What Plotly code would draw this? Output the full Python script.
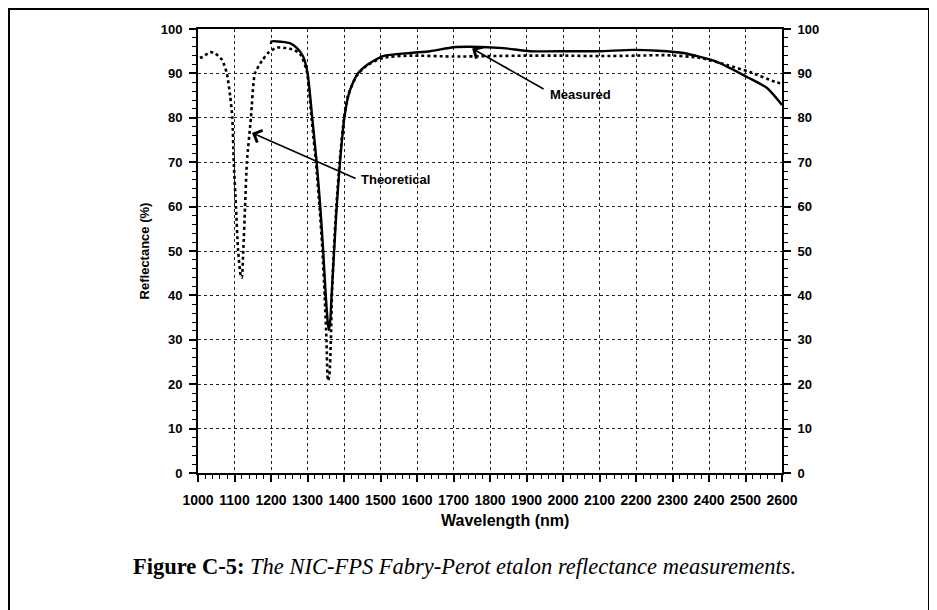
import plotly.graph_objects as go

# ---- data ----
measured_x = [1200, 1201, 1230, 1252, 1270, 1288, 1300, 1313, 1325, 1335, 1343, 1350, 1356,
              1359, 1363, 1366, 1373, 1380, 1389, 1401, 1412, 1425, 1440, 1463, 1507, 1581,
              1636, 1700, 1745, 1836, 1910, 2020, 2100, 2192, 2260, 2330, 2422, 2504, 2559,
              2600]
measured_y = [96.6, 97.2, 97.1, 96.8, 95.8, 93.8, 90.2, 80.0, 70.0, 60.0, 50.0, 40.0, 33.5,
              32.2, 35.0, 40.0, 50.0, 60.0, 70.0, 80.0, 85.0, 88.0, 90.2, 91.9, 93.9, 94.6,
              95.0, 95.9, 96.0, 95.7, 95.0, 95.0, 95.0, 95.3, 95.1, 94.6, 92.6, 89.2, 86.7,
              82.9]

theory_x = [1005, 1013, 1033, 1047, 1066, 1079, 1088, 1094, 1098, 1104, 1110, 1117, 1120,
            1124, 1129, 1134, 1145, 1156, 1175, 1192, 1216, 1250, 1279, 1298, 1311, 1323,
            1333, 1341, 1347, 1352, 1356, 1360, 1364, 1367, 1372, 1379, 1388, 1400, 1411,
            1435, 1463, 1507, 1580, 1700, 1800, 1900, 2000, 2100, 2200, 2285, 2375, 2449,
            2512, 2581, 2600]
theory_y = [93.5, 93.7, 94.8, 94.5, 93.0, 90.0, 85.0, 80.0, 70.0, 60.0, 50.0, 44.5, 44.0,
            50.0, 60.0, 70.0, 80.0, 90.0, 92.8, 94.6, 95.8, 95.6, 94.5, 90.5, 80.0, 70.0,
            60.0, 50.0, 40.0, 30.0, 20.8, 22.0, 30.0, 40.0, 50.0, 60.0, 70.0, 80.0, 85.0,
            89.5, 91.8, 93.5, 94.0, 93.8, 93.9, 94.0, 94.0, 93.9, 94.0, 94.1, 93.5, 91.9,
            90.3, 88.1, 87.7]

x_ticks = list(range(1000, 2601, 100))
y_ticks = list(range(0, 101, 10))

FONT = "Liberation Sans"

fig = go.Figure()
fig.add_trace(go.Scatter(x=theory_x, y=theory_y, mode="lines", name="Theoretical",
                         line=dict(color="black", width=2.6, dash="dot", shape="spline",
                                   smoothing=0.6), showlegend=False))
fig.add_trace(go.Scatter(x=measured_x, y=measured_y, mode="lines", name="Measured",
                         line=dict(color="black", width=2.4, shape="spline", smoothing=0.6),
                         showlegend=False))
# helper trace so that the right-hand axis is drawn
fig.add_trace(go.Scatter(x=[1000], y=[0], yaxis="y2", mode="markers",
                         marker=dict(opacity=0), showlegend=False, hoverinfo="skip"))

xtickfont = dict(family=FONT, size=14, color="black", weight="bold")
ytickfont = dict(family=FONT, size=13, color="black", weight="bold")

fig.update_layout(
    width=937, height=610,
    margin=dict(l=190, r=163, t=21, b=145),
    paper_bgcolor="white", plot_bgcolor="white",
    xaxis=dict(range=[1000, 2600], tickvals=x_ticks, ticktext=[str(v) for v in x_ticks],
               showline=True, linecolor="black", linewidth=2, mirror=True,
               ticks="outside", ticklen=7, tickwidth=1.5, tickcolor="black",
               tickfont=xtickfont, zeroline=False, ticklabelstandoff=6,
               showgrid=True, gridcolor="#222", griddash="dot", gridwidth=1,
               minor=dict(dtick=20, ticks="outside", ticklen=4, tickcolor="black",
                          tickwidth=1.2, showgrid=False)),
    yaxis=dict(range=[0, 100], tickvals=y_ticks, ticktext=[str(v) for v in y_ticks],
               showline=True, linecolor="black", linewidth=2,
               ticks="outside", ticklen=7, tickwidth=1.5, tickcolor="black",
               tickfont=ytickfont, zeroline=False, ticklabelstandoff=4,
               showgrid=True, gridcolor="#222", griddash="dot", gridwidth=1,
               minor=dict(dtick=2, ticks="outside", ticklen=4, tickcolor="black",
                          tickwidth=1.2, showgrid=False),
               title=dict(text="Reflectance (%)", standoff=8,
                          font=dict(family=FONT, size=13, color="black", weight="bold"))),
    yaxis2=dict(range=[0, 100], tickvals=y_ticks, ticktext=[str(v) for v in y_ticks],
                overlaying="y", side="right", anchor="x",
                showline=True, linecolor="black", linewidth=2,
                ticks="outside", ticklen=7, tickwidth=1.5, tickcolor="black",
                tickfont=ytickfont, zeroline=False, showgrid=False, ticklabelstandoff=4,
                minor=dict(dtick=2, ticks="outside", ticklen=4, tickcolor="black",
                           tickwidth=1.2, showgrid=False)),
)

# x-axis title (slightly right of centre, as in the original)
fig.add_annotation(x=0.526, y=-0.108, xref="paper", yref="paper", showarrow=False,
                   xanchor="center", yanchor="middle", text="Wavelength (nm)",
                   font=dict(family=FONT, size=16, color="black", weight="bold"))

# arrows
fig.add_annotation(x=1148, y=76.6, ax=1436, ay=66.2, axref="x", ayref="y", xref="x", yref="y",
                   text="", showarrow=True, arrowhead=4, arrowsize=1.6, arrowwidth=1.6,
                   arrowcolor="black")
fig.add_annotation(x=1751, y=95.6, ax=1951, ay=86.3, axref="x", ayref="y", xref="x", yref="y",
                   text="", showarrow=True, arrowhead=4, arrowsize=1.6, arrowwidth=1.6,
                   arrowcolor="black")
fig.add_annotation(x=1540, y=66.0, xref="x", yref="y", text="Theoretical", showarrow=False,
                   font=dict(family=FONT, size=13, color="black", weight="bold"))
fig.add_annotation(x=2047, y=85.2, xref="x", yref="y", text="Measured", showarrow=False,
                   font=dict(family=FONT, size=13, color="black", weight="bold"))

# caption
fig.add_annotation(x=0.457, y=-0.2117, xref="paper", yref="paper", showarrow=False,
                   xanchor="center", yanchor="middle",
                   text="<b>Figure C-5:</b> <i>The NIC-FPS Fabry-Perot etalon reflectance measurements.</i>",
                   font=dict(family="Liberation Serif", size=22.5, color="black"))

# outer frame
fig.add_shape(type="rect", xref="paper", yref="paper", x0=-0.3236, x1=1.2517, y0=-0.36, y1=1.0450,
              line=dict(color="black", width=2), fillcolor="rgba(0,0,0,0)")

fig.write_html("out.html")
